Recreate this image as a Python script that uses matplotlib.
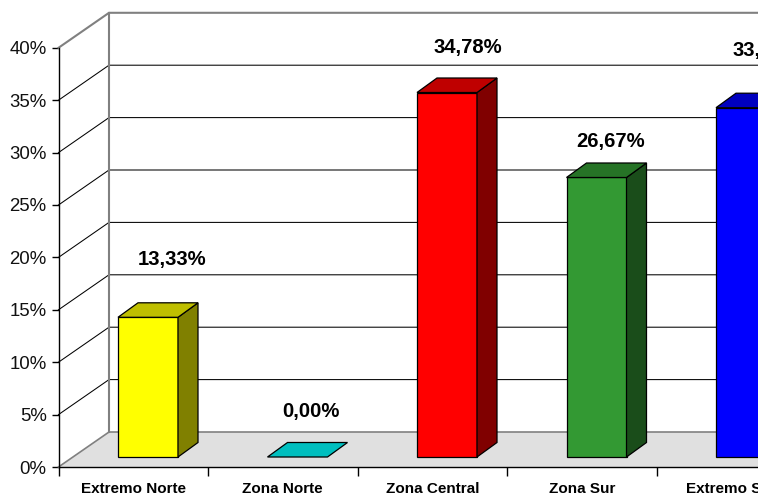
import matplotlib
matplotlib.use('Agg')
import matplotlib.pyplot as plt
from matplotlib.colors import to_rgb
from matplotlib.patches import Polygon, Rectangle

plt.rcParams['font.family'] = ['Liberation Sans', 'DejaVu Sans']

# Chart data
categories = ['Extremo Norte', 'Zona Norte', 'Zona Central', 'Zona Sur', 'Extremo Sur']
values = [13.33, 0.00, 34.78, 26.67, 33.33]
value_labels = ['13,33%', '0,00%', '34,78%', '26,67%', '33,33%']
colors = ['#ffff00', '#00ffff', '#ff0000', '#339933', '#0000ff']
y_ticks = [0, 5, 10, 15, 20, 25, 30, 35, 40]

# Layout of the fake 3D box, in pixels of the 761x495 picture
W, H = 761, 495
X0, Y0 = 58.5, 467.0
CAT_PX = 149.5
PCT_PX = 10.48
WALL_DX, WALL_DY = 50.5 / CAT_PX, 35.0 / PCT_PX
BAR_DX, BAR_DY = 20.0 / CAT_PX, 14.5 / PCT_PX
BAR_LEFT, BAR_WIDTH = 59.5 / CAT_PX, 60.0 / CAT_PX
BAR_BASE = 10.0 / PCT_PX
# label anchor relative to bar top-front centre (pixels)
label_dx = [24, 13.5, 20.5, 14, 21]
label_dy = [57.5, 45.5, 45.5, 35.5, 57.5]
CROP_X = 758  # the source image stops here, the rest is a white strip

GRAY = '#808080'


def shade(color, factor):
    return tuple(c * factor for c in to_rgb(color))


fig = plt.figure(figsize=(W / 100, H / 100), dpi=100)
ax = fig.add_axes([X0 / W, 1 - Y0 / H, CAT_PX * 5 / W, PCT_PX * 40 / H])
n = len(categories)
ax.set_xlim(0, n)
ax.set_ylim(0, 40)
ax.patch.set_visible(False)

# floor
ax.add_patch(Polygon([(0, 0), (n, 0), (n + WALL_DX, WALL_DY), (WALL_DX, WALL_DY)],
                     closed=True, facecolor='#e0e0e0', edgecolor='none', zorder=1))
ax.plot([0, WALL_DX, n + WALL_DX], [0, WALL_DY, WALL_DY], color=GRAY, lw=1.2, zorder=2, clip_on=False)

# grid lines running over the left wall and the back wall
for v in y_ticks[1:]:
    c = GRAY if v == y_ticks[-1] else 'black'
    lw = 1.5 if v == y_ticks[-1] else 0.75
    ax.plot([0, WALL_DX, n + WALL_DX], [v, v + WALL_DY, v + WALL_DY],
            color=c, lw=lw, zorder=2, clip_on=False, solid_joinstyle='miter')
ax.plot([WALL_DX, WALL_DX], [WALL_DY, 40 + WALL_DY], color=GRAY, lw=1.5, zorder=3, clip_on=False)

# bars
for i, (val, col) in enumerate(zip(values, colors)):
    left = i + BAR_LEFT
    right = left + BAR_WIDTH
    bottom = BAR_BASE
    top = BAR_BASE + val
    edge = dict(edgecolor='black', linewidth=0.9, closed=True, zorder=4 + i,
                clip_on=False, joinstyle='miter')
    if val > 0:
        ax.add_patch(Polygon([(left, bottom), (right, bottom), (right, top), (left, top)],
                             facecolor=col, **edge))
        ax.add_patch(Polygon([(right, bottom), (right + BAR_DX, bottom + BAR_DY),
                              (right + BAR_DX, top + BAR_DY), (right, top)],
                             facecolor=shade(col, 0.5), **edge))
    ax.add_patch(Polygon([(left, top), (right, top), (right + BAR_DX, top + BAR_DY),
                          (left + BAR_DX, top + BAR_DY)],
                         facecolor=shade(col, 0.75), **edge))
    ax.text(left + BAR_WIDTH / 2 + label_dx[i] / CAT_PX, top + label_dy[i] / PCT_PX,
            value_labels[i], ha='center', va='center', fontsize=14.6, fontweight='bold',
            color='black', zorder=20, clip_on=False)

# axes
for side in ['top', 'right']:
    ax.spines[side].set_visible(False)
for side in ['left', 'bottom']:
    ax.spines[side].set_linewidth(1.0)
    ax.spines[side].set_zorder(15)
ax.set_yticks(y_ticks)
ax.set_yticklabels([f'{v}%' for v in y_ticks], fontsize=13.4, color='#111111')
ax.tick_params(axis='y', length=5, width=1.0, pad=3.5)
ax.set_xticks(range(n + 1))
ax.set_xticklabels([])
ax.tick_params(axis='x', which='major', length=6.5, width=1.0)
ax.set_xticks([i + 0.5 for i in range(n)], minor=True)
ax.set_xticklabels(categories, minor=True, fontsize=11, fontweight='bold')
ax.tick_params(axis='x', which='minor', length=0, pad=11)

# white strip on the right edge, drawn last over the axes
fig.add_artist(Rectangle((CROP_X / W, 0), 1 - CROP_X / W, 1, transform=fig.transFigure,
                         facecolor='white', edgecolor='none', zorder=50))

fig.savefig('out.png', dpi=100)
